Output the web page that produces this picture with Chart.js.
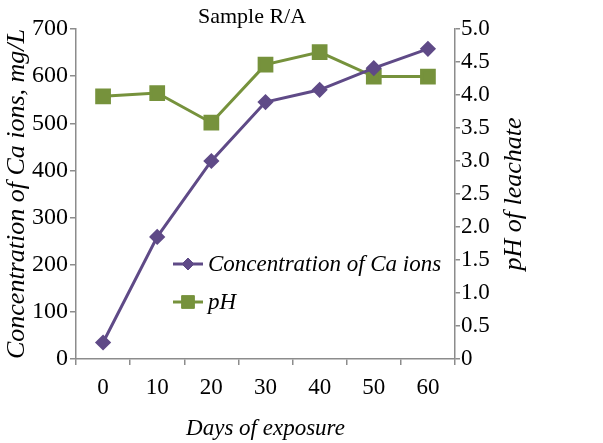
<!DOCTYPE html>
<html>
<head>
<meta charset="utf-8">
<script src="https://cdn.jsdelivr.net/npm/chart.js@4"></script>
<style>
  html, body { margin: 0; padding: 0; background: #fff; }
  #wrap { width: 603px; height: 443px; }
</style>
</head>
<body>
<div id="wrap"><canvas id="chart" width="603" height="443"></canvas></div>
<script>
// data
const days = ['0', '10', '20', '30', '40', '50', '60'];
const caIons = [35, 259, 420, 545, 571, 617, 658];
const phValues = [3.98, 4.03, 3.58, 4.46, 4.65, 4.28, 4.28];

const purple = '#5f4a87';
const green = '#76923c';
const axisGray = '#8c8c8c';
const serif = "'Liberation Serif', 'DejaVu Serif', serif";

// title, right axis title (reads bottom-up) and legend inside the plot
const extras = {
  id: 'extras',
  afterDraw(chart) {
    const ctx = chart.ctx;
    const area = chart.chartArea;
    ctx.save();
    ctx.fillStyle = '#000';
    ctx.font = '22px ' + serif;
    ctx.textAlign = 'center';
    ctx.textBaseline = 'middle';
    ctx.fillText('Sample R/A', 252, 17);

    ctx.save();
    ctx.translate(514, (area.top + area.bottom) / 2);
    ctx.rotate(-Math.PI / 2);
    ctx.font = 'italic 26px ' + serif;
    ctx.fillText('pH of leachate', 0, 0);
    ctx.restore();

    const rows = [264, 302];
    chart.data.datasets.forEach((ds, i) => {
      const y = rows[i];
      ctx.strokeStyle = ds.borderColor;
      ctx.lineWidth = ds.borderWidth;
      ctx.beginPath();
      ctx.moveTo(173, y);
      ctx.lineTo(203, y);
      ctx.stroke();
      ctx.fillStyle = ds.pointBackgroundColor;
      ctx.strokeStyle = ds.pointBackgroundColor;
      ctx.lineWidth = 1;
      Chart.helpers.drawPoint(ctx, {
        pointStyle: ds.pointStyle,
        radius: ds.pointRadius,
        rotation: 0,
        borderWidth: 1
      }, 188, y);
      ctx.fillStyle = '#000';
      ctx.font = 'italic 23px ' + serif;
      ctx.textAlign = 'left';
      ctx.fillText(ds.label, 208, y + 1);
    });
    ctx.restore();
  }
};

new Chart(document.getElementById('chart'), {
  type: 'line',
  data: {
    labels: days,
    datasets: [
      {
        label: 'Concentration of Ca ions',
        data: caIons,
        yAxisID: 'y',
        borderColor: purple,
        backgroundColor: purple,
        pointBackgroundColor: purple,
        pointBorderColor: purple,
        borderWidth: 3,
        pointStyle: 'rectRot',
        pointRadius: 6,
        tension: 0
      },
      {
        label: 'pH',
        data: phValues,
        yAxisID: 'y1',
        borderColor: green,
        backgroundColor: green,
        pointBackgroundColor: green,
        pointBorderColor: green,
        borderWidth: 3,
        pointStyle: 'rect',
        pointRadius: 9,
        tension: 0
      }
    ]
  },
  options: {
    responsive: false,
    animation: false,
    layout: { padding: { top: 29, left: 2, right: 76, bottom: 0 } },
    plugins: {
      legend: { display: false },
      title: { display: false },
      tooltip: { enabled: false }
    },
    scales: {
      x: {
        offset: true,
        grid: { display: true, offset: true, drawOnChartArea: false, color: axisGray, tickLength: 6, lineWidth: 1.5 },
        border: { color: axisGray, width: 1.5 },
        ticks: { color: '#000', font: { family: serif, size: 23 }, padding: 9, maxRotation: 0 },
        title: { display: true, text: 'Days of exposure', color: '#000', font: { family: serif, size: 23, style: 'italic' }, padding: { top: 4, bottom: 0 } },
        afterFit(scale) { scale.height = 84; }
      },
      y: {
        position: 'left',
        min: 0, max: 700,
        ticks: { stepSize: 100, color: '#000', font: { family: serif, size: 24 }, padding: 2 },
        grid: { display: true, drawOnChartArea: false, color: axisGray, tickLength: 6, lineWidth: 1.5 },
        border: { color: axisGray, width: 1.5 },
        title: { display: true, text: 'Concentration of Ca ions, mg/L', color: '#000', font: { family: serif, size: 26, style: 'italic' }, padding: { top: 0, bottom: 0 } },
        afterFit(scale) { scale.width = 74; }
      },
      y1: {
        position: 'right',
        min: 0, max: 5,
        ticks: {
          stepSize: 0.5, color: '#000', font: { family: serif, size: 23 }, padding: 1,
          callback: v => v === 0 ? '0' : v.toFixed(1)
        },
        grid: { display: true, drawOnChartArea: false, color: axisGray, tickLength: 5, lineWidth: 1.5 },
        border: { color: axisGray, width: 1.5 },
        title: { display: false },
        afterFit(scale) { scale.width = 72; }
      }
    }
  },
  plugins: [extras]
});
</script>
</body>
</html>
